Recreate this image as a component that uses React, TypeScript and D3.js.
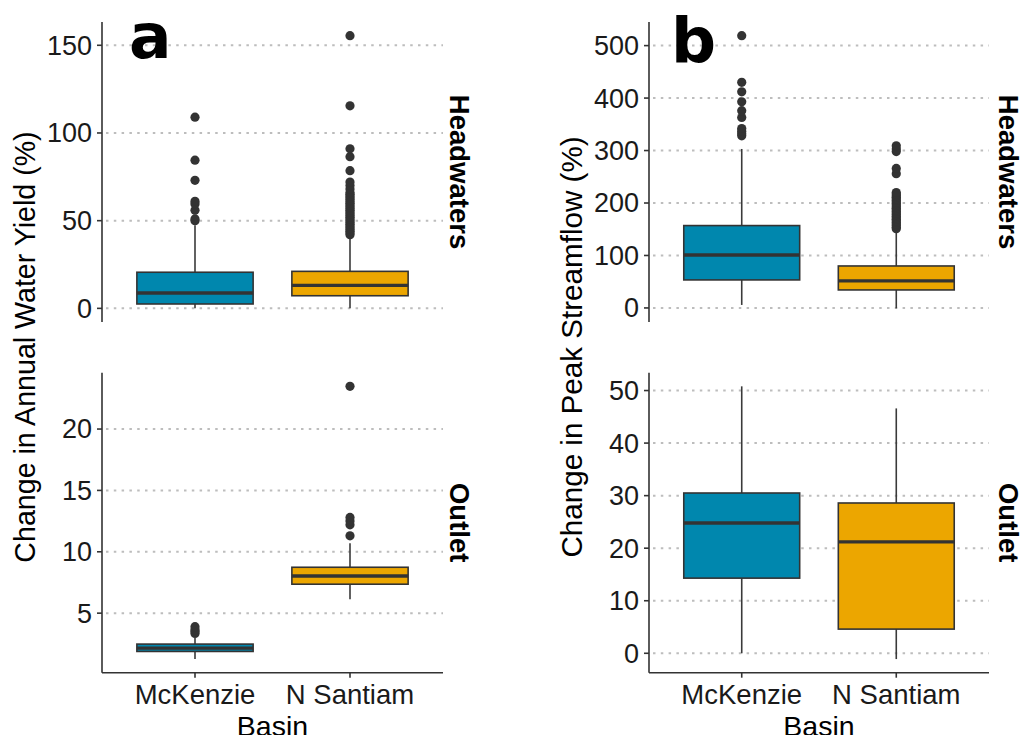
import React from "react";
import * as d3 from "d3";

const basins = ["McKenzie", "N Santiam"];
const fillColors = ["#0087AE", "#ECA600"];

// [lower whisker, Q1, median, Q3, upper whisker]
const yieldHeadBoxes = [
  [0.0, 2.5, 8.8, 20.6, 47.4],
  [0.0, 7.2, 13.1, 21.1, 41.5],
];
const yieldHeadOutliers = [
  [50, 51, 56, 59.5, 61, 73, 84.5, 109],
  [42, 43, 44, 45, 46, 47, 48, 49, 50, 51, 52, 53, 54, 55, 56, 57, 58, 59, 60, 61, 62, 63, 64, 65, 66, 68, 70, 72, 78.5, 86.5, 91, 115.5, 155.5],
];
const yieldOutletBoxes = [
  [1.26, 1.88, 2.15, 2.48, 2.97],
  [6.14, 7.36, 8.03, 8.74, 10.69],
];
const yieldOutletOutliers = [
  [3.35, 3.5, 3.65, 3.9],
  [11.3, 12.2, 12.5, 12.8, 23.48],
];
const peakHeadBoxes = [
  [5.7, 53.4, 101, 157, 303],
  [-0.8, 34.3, 51.5, 80, 148.7],
];
const peakHeadOutliers = [
  [328, 332, 337, 342, 363, 376, 393, 412, 430, 519],
  [151, 154, 157, 160, 163, 166, 169, 172, 175, 178, 181, 184, 187, 190, 193, 196, 199, 202, 205, 208, 211, 214, 217, 220, 256, 266, 298, 303, 309],
];
const peakOutletBoxes = [
  [0.0, 14.3, 24.8, 30.5, 50.8],
  [-1.1, 4.6, 21.2, 28.6, 46.6],
];
const peakOutletOutliers = [[], []];

const yieldHeadTicks = [0, 50, 100, 150];
const yieldOutletTicks = [5, 10, 15, 20];
const peakHeadTicks = [0, 100, 200, 300, 400, 500];
const peakOutletTicks = [0, 10, 20, 30, 40, 50];

const panelLetters = ["a", "b"];
const yTitles = ["Change in Annual Water Yield (%)", "Change in Peak Streamflow (%)"];
const stripLabels = ["Headwaters", "Outlet"];
const xTitle = "Basin";

const FONT = "'Liberation Sans', Arial, sans-serif";
const INK = "#333333";

type PanelProps = {
  x0: number;
  x1: number;
  y0: number;
  y1: number;
  boxes: number[][];
  outliers: number[][];
  ticks: number[];
  showX: boolean;
  strip: string;
  stripX: number;
};

function Panel({ x0, x1, y0, y1, boxes, outliers, ticks, showX, strip, stripX }: PanelProps) {
  const all: number[] = [];
  boxes.forEach((b) => all.push(...b));
  outliers.forEach((o) => all.push(...o));
  const [mn, mx] = d3.extent(all) as [number, number];
  const pad = (mx - mn) * 0.05;
  const y = d3.scaleLinear().domain([mn - pad, mx + pad]).range([y1, y0]);
  const x = d3.scalePoint<string>().domain(basins).range([x0, x1]).padding(0.6);
  const step = x.step();
  const bw = step * 0.75;
  return (
    <g>
      {ticks.map((t) => (
        <line
          key={"g" + t}
          x1={x0 + 4}
          x2={x1}
          y1={y(t)}
          y2={y(t)}
          stroke="#bdbdbd"
          strokeWidth={2}
          strokeDasharray="2.5 5.3"
        />
      ))}
      {basins.map((b, i) => {
        const cx = x(b) as number;
        const [lo, q1, med, q3, hi] = boxes[i];
        return (
          <g key={b}>
            <line x1={cx} x2={cx} y1={y(q3)} y2={y(hi)} stroke="#3a3a3a" strokeWidth={1.6} />
            <line x1={cx} x2={cx} y1={y(q1)} y2={y(lo)} stroke="#3a3a3a" strokeWidth={1.6} />
            <rect
              x={cx - bw / 2}
              y={y(q3)}
              width={bw}
              height={y(q1) - y(q3)}
              fill={fillColors[i]}
              stroke={INK}
              strokeWidth={1.6}
            />
            <line x1={cx - bw / 2} x2={cx + bw / 2} y1={y(med)} y2={y(med)} stroke={INK} strokeWidth={3.4} />
            {outliers[i].map((v, j) => (
              <circle key={j} cx={cx} cy={y(v)} r={4.6} fill={INK} />
            ))}
          </g>
        );
      })}
      <line x1={x0} x2={x0} y1={y0} y2={y1} stroke={INK} strokeWidth={1.6} />
      {ticks.map((t) => (
        <g key={"t" + t}>
          <line x1={x0 - 5} x2={x0} y1={y(t)} y2={y(t)} stroke={INK} strokeWidth={1.6} />
          <text
            x={x0 - 10}
            y={y(t)}
            dy="0.35em"
            textAnchor="end"
            fontFamily={FONT}
            fontSize={27}
            fill="#1a1a1a"
          >
            {t}
          </text>
        </g>
      ))}
      {showX && (
        <g>
          <line x1={x0} x2={x1} y1={y1} y2={y1} stroke={INK} strokeWidth={1.6} />
          {basins.map((b) => (
            <g key={"x" + b}>
              <line x1={x(b)} x2={x(b)} y1={y1} y2={y1 + 5} stroke={INK} strokeWidth={1.6} />
              <text
                x={x(b)}
                y={y1 + 31}
                textAnchor="middle"
                fontFamily={FONT}
                fontSize={27.5}
                fill="#1a1a1a"
              >
                {b}
              </text>
            </g>
          ))}
          <text
            x={(x0 + x1) / 2}
            y={y1 + 63}
            textAnchor="middle"
            fontFamily={FONT}
            fontSize={28.5}
            fill="#000"
          >
            {xTitle}
          </text>
        </g>
      )}
      <text
        transform={`translate(${stripX},${(y0 + y1) / 2}) rotate(90)`}
        textAnchor="middle"
        dy="0.35em"
        fontFamily={FONT}
        fontWeight="bold"
        fontSize={27.5}
        fill="#000"
      >
        {strip}
      </text>
    </g>
  );
}

export default function App() {
  const W = 1020;
  const H = 735;
  const topY = [22, 322];
  const botY = [372.7, 672.7];
  const cols = [
    { x0: 102, x1: 443, strip: 460, title: 25, letterX: 129, letterY: 58, titleSize: 28.6 },
    { x0: 649, x1: 989, strip: 1009, title: 572, letterX: 671, letterY: 62, titleSize: 29.6 },
  ];
  const panelData = [
    [yieldHeadBoxes, yieldHeadOutliers, yieldHeadTicks, yieldOutletBoxes, yieldOutletOutliers, yieldOutletTicks],
    [peakHeadBoxes, peakHeadOutliers, peakHeadTicks, peakOutletBoxes, peakOutletOutliers, peakOutletTicks],
  ];
  return (
    <svg
      width={W}
      height={H}
      style={{ position: "absolute", left: 0, top: 0, background: "#fff" }}
    >
      <rect width={W} height={H} fill="#fff" />
      {cols.map((c, k) => {
        const pd = panelData[k];
        return (
          <g key={k}>
            <Panel
              x0={c.x0}
              x1={c.x1}
              y0={topY[0]}
              y1={topY[1]}
              boxes={pd[0] as number[][]}
              outliers={pd[1] as number[][]}
              ticks={pd[2] as number[]}
              showX={false}
              strip={stripLabels[0]}
              stripX={c.strip}
            />
            <Panel
              x0={c.x0}
              x1={c.x1}
              y0={botY[0]}
              y1={botY[1]}
              boxes={pd[3] as number[][]}
              outliers={pd[4] as number[][]}
              ticks={pd[5] as number[]}
              showX={true}
              strip={stripLabels[1]}
              stripX={c.strip}
            />
            <text
              transform={`translate(${c.title},${347}) rotate(-90)`}
              textAnchor="middle"
              dy="0.35em"
              fontFamily={FONT}
              fontSize={c.titleSize}
              fill="#000"
            >
              {yTitles[k]}
            </text>
            <text
              x={c.letterX}
              y={c.letterY}
              fontFamily="'DejaVu Sans', sans-serif"
              fontWeight="bold"
              fontSize={63}
              fill="#000"
            >
              {panelLetters[k]}
            </text>
          </g>
        );
      })}
    </svg>
  );
}
